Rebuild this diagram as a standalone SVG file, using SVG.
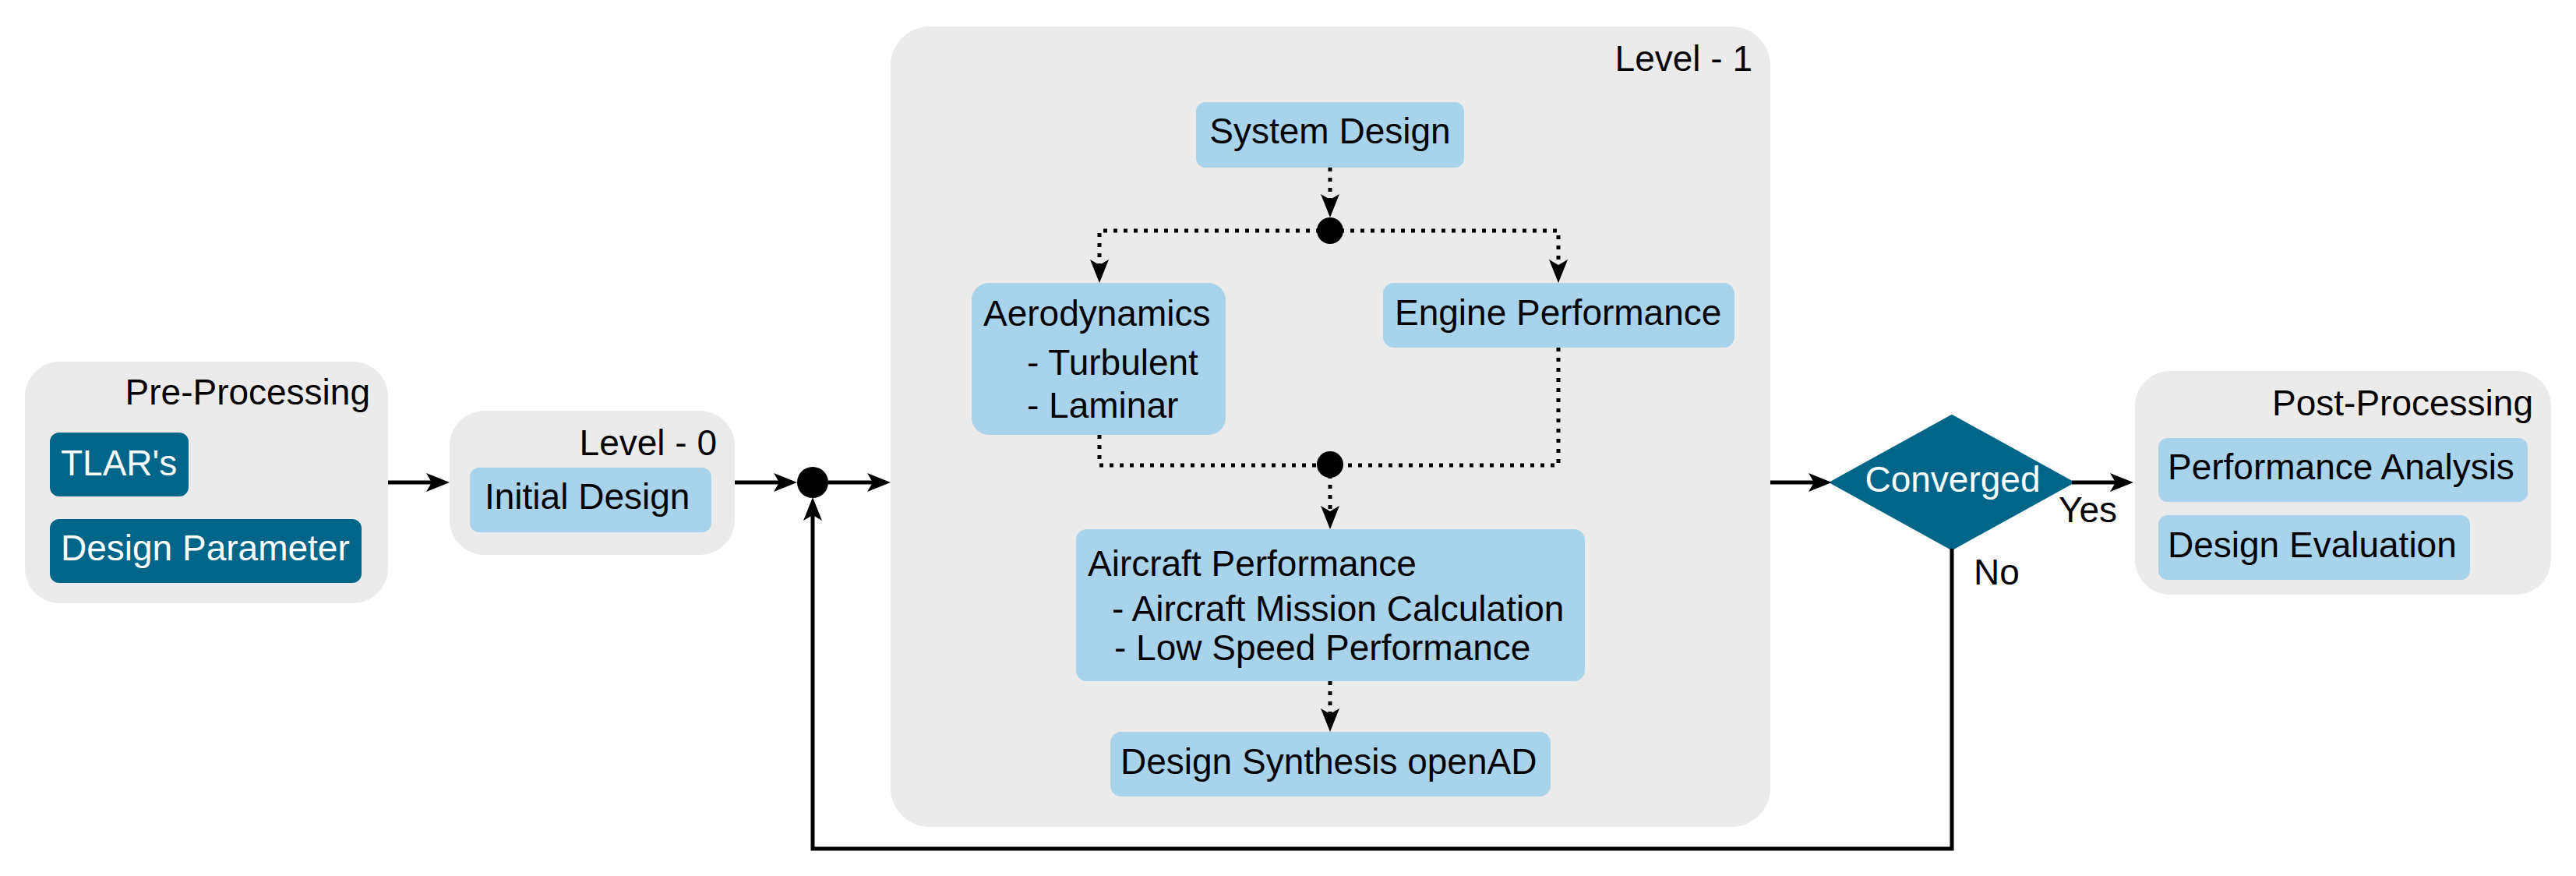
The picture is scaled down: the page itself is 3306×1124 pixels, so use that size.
<svg xmlns="http://www.w3.org/2000/svg" width="3306" height="1124" viewBox="0 0 3306 1124">
<style>
text{font-family:"Liberation Sans",Arial,sans-serif;font-size:46px;fill:#000}
.grp{fill:#ebebeb}
.lb{fill:#a8d3eb}
.dk{fill:#006689}
.wt{fill:#fff}
.end{text-anchor:end}
.mid{text-anchor:middle}
.solid{fill:none;stroke:#000;stroke-width:5}
.dot{fill:none;stroke:#000;stroke-width:5;stroke-dasharray:5 8}
</style>
<defs>
<marker id="ah" viewBox="0 0 30 24" refX="7" refY="12" markerWidth="30" markerHeight="24" markerUnits="userSpaceOnUse" orient="auto">
<path d="M0,0 L30,12 L0,24 L7,12 z" fill="#000"/>
</marker>
</defs>
<rect width="3306" height="1124" fill="#fff"/>

<g id="pre-processing">
<rect class="grp" x="32" y="464" width="466" height="310" rx="45"/>
<text class="end" x="475" y="519">Pre-Processing</text>
</g>
<g id="tlars">
<rect class="dk" x="64" y="555" width="178" height="82" rx="12"/>
<text class="wt" x="78" y="610">TLAR's</text>
</g>
<g id="design-parameter">
<rect class="dk" x="64" y="666" width="400" height="82" rx="12"/>
<text class="wt" x="78" y="719">Design Parameter</text>
</g>

<g id="level-0">
<rect class="grp" x="577" y="527" width="366" height="185" rx="45"/>
<text class="end" x="920" y="584">Level - 0</text>
</g>
<g id="initial-design">
<rect class="lb" x="603" y="600" width="310" height="83" rx="12"/>
<text x="622" y="653">Initial Design</text>
</g>

<g id="level-1">
<rect class="grp" x="1143" y="34" width="1129" height="1027" rx="50"/>
<text class="end" x="2249" y="91">Level - 1</text>
</g>
<g id="system-design">
<rect class="lb" x="1535" y="131" width="344" height="84" rx="12"/>
<text class="mid" x="1707" y="184">System Design</text>
</g>
<g id="aerodynamics">
<rect class="lb" x="1247" y="363" width="326" height="195" rx="22"/>
<text x="1262" y="418">Aerodynamics</text>
<text x="1318" y="481">- Turbulent</text>
<text x="1318" y="536">- Laminar</text>
</g>
<g id="engine-performance">
<rect class="lb" x="1775" y="363" width="451" height="83" rx="14"/>
<text x="1790" y="417">Engine Performance</text>
</g>
<g id="aircraft-performance">
<rect class="lb" x="1381" y="679" width="653" height="195" rx="14"/>
<text x="1396" y="739">Aircraft Performance</text>
<text x="1427" y="797">- Aircraft Mission Calculation</text>
<text x="1430" y="847">- Low Speed Performance</text>
</g>
<g id="design-synthesis">
<rect class="lb" x="1425" y="939" width="565" height="83" rx="14"/>
<text x="1438" y="993">Design Synthesis openAD</text>
</g>

<g id="converged">
<polygon class="dk" points="2351,619 2505,534 2659,619 2505,704" stroke="#006689" stroke-width="4" stroke-linejoin="round"/>
<text class="mid wt" x="2506" y="631">Converged</text>
</g>

<g id="post-processing">
<rect class="grp" x="2740" y="476" width="534" height="287" rx="45"/>
<text class="end" x="3251" y="533">Post-Processing</text>
</g>
<g id="performance-analysis">
<rect class="lb" x="2770" y="562" width="474" height="82" rx="12"/>
<text x="2782" y="615">Performance Analysis</text>
</g>
<g id="design-evaluation">
<rect class="lb" x="2770" y="661" width="400" height="83" rx="12"/>
<text x="2782" y="715">Design Evaluation</text>
</g>

<g id="connectors">
<path class="solid" d="M498,619 H554" marker-end="url(#ah)"/>
<path class="solid" d="M943,619 H1000" marker-end="url(#ah)"/>
<circle cx="1043" cy="619" r="20" fill="#000"/>
<path class="solid" d="M1063,619 H1120" marker-end="url(#ah)"/>
<path class="solid" d="M2272,619 H2328" marker-end="url(#ah)"/>
<path class="solid" d="M2659,619 H2715" marker-end="url(#ah)"/>
<path class="solid" d="M2505,704 V1089 H1043 V661" marker-end="url(#ah)"/>

<path class="dot" d="M1707,215 V256" marker-end="url(#ah)"/>
<circle cx="1707" cy="296" r="17" fill="#000"/>
<path class="dot" d="M1707,296 H1411 V340" marker-end="url(#ah)"/>
<path class="dot" d="M1707,296 H2000 V340" marker-end="url(#ah)"/>
<path class="dot" d="M1411,558 V597 H1707"/>
<path class="dot" d="M2000,446 V597 H1707"/>
<circle cx="1707" cy="596" r="17" fill="#000"/>
<path class="dot" d="M1707,596 V656" marker-end="url(#ah)"/>
<path class="dot" d="M1707,874 V916" marker-end="url(#ah)"/>

<text x="2642" y="670">Yes</text>
<text x="2533" y="750">No</text>
</g>
</svg>
